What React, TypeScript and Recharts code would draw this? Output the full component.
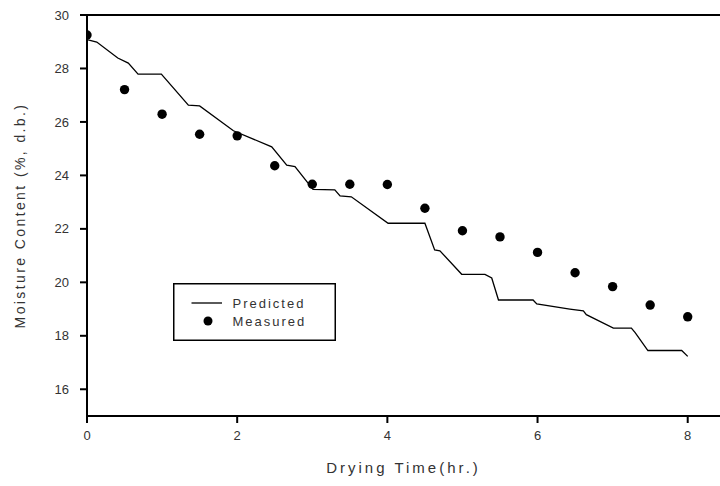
import React from "react";
import {
  ComposedChart,
  Line,
  Scatter,
  XAxis,
  YAxis,
  ReferenceLine,
} from "recharts";

// Model curve: drying time (hr) vs. moisture content (%, d.b.)
const predictedTime = [
  0, 0.13, 0.41, 0.55, 0.68, 0.99, 1.35, 1.5, 1.95, 2.46, 2.66, 2.77, 3.01,
  3.3, 3.37, 3.52, 4.01, 4.5, 4.63, 4.7, 4.99, 5.3, 5.39, 5.48, 5.94, 5.99,
  6.43, 6.61, 6.65, 7.01, 7.25, 7.3, 7.47, 7.92, 8.0,
];
const predictedMC = [
  29.08, 28.99, 28.39, 28.2, 27.79, 27.79, 26.63, 26.6, 25.67, 25.07, 24.38,
  24.33, 23.48, 23.46, 23.23, 23.2, 22.21, 22.21, 21.21, 21.18, 20.3, 20.3,
  20.16, 19.34, 19.34, 19.19, 19.0, 18.93, 18.79, 18.29, 18.29, 18.12, 17.45,
  17.45, 17.23,
];

// Experimental readings every half hour
const measuredTime = [
  0, 0.5, 1, 1.5, 2, 2.5, 3, 3.5, 4, 4.5, 5, 5.5, 6, 6.5, 7, 7.5, 8,
];
const measuredMC = [
  29.25, 27.21, 26.29, 25.54, 25.48, 24.36, 23.67, 23.67, 23.66, 22.77, 21.93,
  21.7, 21.12, 20.36, 19.84, 19.15, 18.71,
];

const xTicks = [0, 2, 4, 6, 8];
const yTicks = [16, 18, 20, 22, 24, 26, 28, 30];
const seriesNames = ["Predicted", "Measured"];

const predicted = predictedTime.map((t, i) => ({ t, mc: predictedMC[i] }));
const measured = measuredTime.map((t, i) => ({ t, mc: measuredMC[i] }));

const FONT = "'Liberation Sans', Arial, sans-serif";
const TEXT = "#333";

function LegendBox() {
  return (
    <svg width={163} height={58} style={{ display: "block" }}>
      <rect x={0.75} y={0.75} width={161.5} height={56.5} fill="#fff" stroke="#000" strokeWidth={1.5} />
      <line x1={18.5} y1={20} x2={49} y2={20} stroke="#000" strokeWidth={1.3} />
      <circle cx={35} cy={38} r={4.5} fill="#000" />
      <text x={59.5} y={20} dominantBaseline="central" fontFamily={FONT} fontSize={13} letterSpacing={2} fill={TEXT}>
        {seriesNames[0]}
      </text>
      <text x={59.5} y={38} dominantBaseline="central" fontFamily={FONT} fontSize={13} letterSpacing={2} fill={TEXT}>
        {seriesNames[1]}
      </text>
    </svg>
  );
}

function YTitle(props: any) {
  const vb = props.viewBox || {};
  const cx = 20;
  const cy = (vb.y ?? 15) + (vb.height ?? 401) / 2;
  return (
    <text
      x={cx}
      y={cy}
      transform={`rotate(-90, ${cx}, ${cy})`}
      textAnchor="middle"
      dominantBaseline="central"
      fontFamily={FONT}
      fontSize={14}
      letterSpacing={2.4}
      fill={TEXT}
    >
      Moisture Content (%, d.b.)
    </text>
  );
}

function XTitle(props: any) {
  const vb = props.viewBox || {};
  const cx = (vb.x ?? 87) + (vb.width ?? 633) / 2;
  return (
    <text
      x={cx}
      y={467}
      textAnchor="middle"
      dominantBaseline="central"
      fontFamily={FONT}
      fontSize={15}
      letterSpacing={3}
      fill={TEXT}
    >
      Drying Time(hr.)
    </text>
  );
}

export default function App() {
  return (
    <div style={{ position: "absolute", left: 0, top: 0, width: 720, height: 486, background: "#fff" }}>
      <ComposedChart
        width={720}
        height={486}
        margin={{ top: 15, right: 0, bottom: 0, left: 0 }}
      >
        <XAxis
          type="number"
          dataKey="t"
          domain={[0, 8.43]}
          ticks={xTicks}
          allowDataOverflow
          height={70}
          stroke="#000"
          strokeWidth={2}
          tickSize={7}
          tickMargin={8}
          tick={{ fill: TEXT, fontSize: 13, fontFamily: FONT }}
          label={<XTitle />}
        />
        <YAxis
          type="number"
          dataKey="mc"
          domain={[15, 30]}
          ticks={yTicks}
          allowDataOverflow
          width={87}
          stroke="#000"
          strokeWidth={2}
          tickSize={7}
          tickMargin={11}
          tick={{ fill: TEXT, fontSize: 13, fontFamily: FONT }}
          label={<YTitle />}
        />
        <ReferenceLine y={30} stroke="#000" strokeWidth={2} />
        <Line
          data={predicted}
          dataKey="mc"
          type="linear"
          stroke="#000"
          strokeWidth={1.3}
          dot={false}
          activeDot={false}
          isAnimationActive={false}
          name={seriesNames[0]}
        />
        <Scatter
          data={measured}
          dataKey="mc"
          fill="#000"
          shape={(p: any) => <circle cx={p.cx} cy={p.cy} r={4.7} fill="#000" />}
          isAnimationActive={false}
          name={seriesNames[1]}
        />
      </ComposedChart>
      <div style={{ position: "absolute", left: 173, top: 283, width: 163, height: 58 }}>
        <LegendBox />
      </div>
    </div>
  );
}
